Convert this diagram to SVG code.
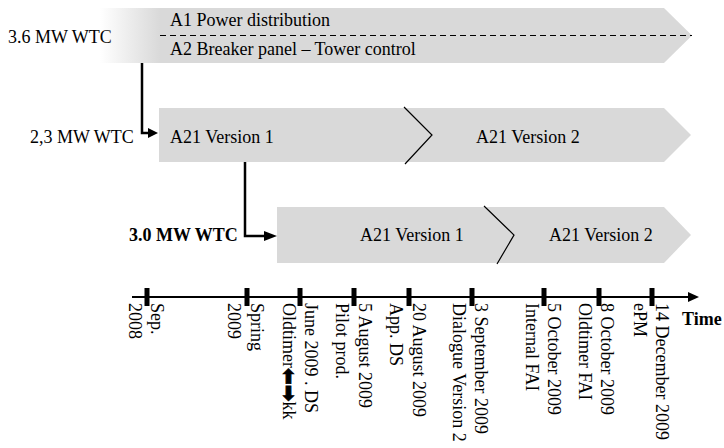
<svg xmlns="http://www.w3.org/2000/svg" width="724" height="448" viewBox="0 0 724 448">
<style>
.t{font-family:"Liberation Serif","Times New Roman",serif;font-size:18px;fill:#000}
.b{font-weight:bold}
.band{fill:#d9d9d9}
.chev{fill:none;stroke:#000;stroke-width:1.2}
.conn{fill:none;stroke:#000;stroke-width:2.5}
.tick{fill:#000}
.ar{font-family:"DejaVu Sans",sans-serif;font-weight:bold;stroke:#000;stroke-width:0.8}
</style>
<defs>
<linearGradient id="fade" x1="100" y1="0" x2="160" y2="0" gradientUnits="userSpaceOnUse">
<stop offset="0" stop-color="#d9d9d9" stop-opacity="0"/>
<stop offset="1" stop-color="#d9d9d9"/>
</linearGradient>
</defs>
<text class="t" x="8" y="43">3.6 MW WTC</text>
<text class="t" x="30" y="143">2,3 MW WTC</text>
<text class="t b" x="129" y="241">3.0 MW WTC</text>
<g id="band-a1a2">
<rect x="100" y="8" width="60" height="55" fill="url(#fade)"/>
<polygon class="band" points="160,8 664,8 692,35.5 664,63 160,63"/>
<line x1="160" y1="35.5" x2="692" y2="35.5" stroke="#000" stroke-width="1.2" stroke-dasharray="6,4"/>
<text class="t" x="170" y="26">A1 Power distribution</text>
<text class="t" x="170" y="55">A2 Breaker panel – Tower control</text>
</g>
<g id="band-23">
<polygon class="band" points="159,108 664,108 691,135 664,162 159,162"/>
<polyline class="chev" points="404,107 432,135 405,164"/>
<text class="t" x="170" y="143">A21 Version 1</text>
<text class="t" x="476" y="143">A21 Version 2</text>
</g>
<g id="band-30">
<polygon class="band" points="277,207 664,207 691,235 664,263 277,263"/>
<polyline class="chev" points="484,206 514,235 497,264"/>
<text class="t" x="360" y="241">A21 Version 1</text>
<text class="t" x="549" y="241">A21 Version 2</text>
</g>
<g id="connectors">
<polyline class="conn" points="142,63 142,133 149,133"/>
<polygon points="148,128 158,133 148,138"/>
<polyline class="conn" points="245,162 245,236 265,236"/>
<polygon points="264,231 277,236 264,241"/>
</g>
<g id="timeline">
<line x1="132" y1="297" x2="690" y2="297" stroke="#000" stroke-width="2"/>
<polygon points="688,292 699,297 688,302"/>
<rect class="tick" x="144.5" y="288" width="5" height="18"/>
<rect class="tick" x="244.5" y="288" width="5" height="18"/>
<rect class="tick" x="297.5" y="288" width="5" height="18"/>
<rect class="tick" x="351.5" y="288" width="5" height="18"/>
<rect class="tick" x="406.5" y="288" width="5" height="18"/>
<rect class="tick" x="469.5" y="288" width="5" height="18"/>
<rect class="tick" x="541.5" y="288" width="5" height="18"/>
<rect class="tick" x="596.5" y="288" width="5" height="18"/>
<rect class="tick" x="649.5" y="288" width="5" height="18"/>
<text class="t b" x="682" y="325">Time</text>
</g>
<g id="labels">
<text class="t" transform="translate(151,303) rotate(90)">Sep.</text>
<text class="t" transform="translate(129,303) rotate(90)">2008</text>
<text class="t" transform="translate(251,303) rotate(90)">Spring</text>
<text class="t" transform="translate(228,303) rotate(90)">2009</text>
<text class="t" transform="translate(305,303) rotate(90)">June 2009 . DS</text>
<text class="t" transform="translate(283,303) rotate(90)">Oldtimer<tspan class="ar" font-size="20" dy="1.5">⬅➡</tspan><tspan dy="-1.5">kk</tspan></text>
<text class="t" transform="translate(359,303) rotate(90)">5 August 2009</text>
<text class="t" transform="translate(336,303) rotate(90)">Pilot prod.</text>
<text class="t" transform="translate(413,303) rotate(90)">20 August 2009</text>
<text class="t" transform="translate(390,303) rotate(90)">App. DS</text>
<text class="t" transform="translate(475,303) rotate(90)">3 September 2009</text>
<text class="t" transform="translate(453,303) rotate(90)">Dialogue Version 2</text>
<text class="t" transform="translate(548,303) rotate(90)">5 October 2009</text>
<text class="t" transform="translate(526,303) rotate(90)">Internal FAI</text>
<text class="t" transform="translate(601,303) rotate(90)">8 October 2009</text>
<text class="t" transform="translate(579,303) rotate(90)">Oldtimer FAI</text>
<text class="t" transform="translate(656,303) rotate(90)">14 December 2009</text>
<text class="t" transform="translate(634,303) rotate(90)">ePM</text>
</g>
</svg>
